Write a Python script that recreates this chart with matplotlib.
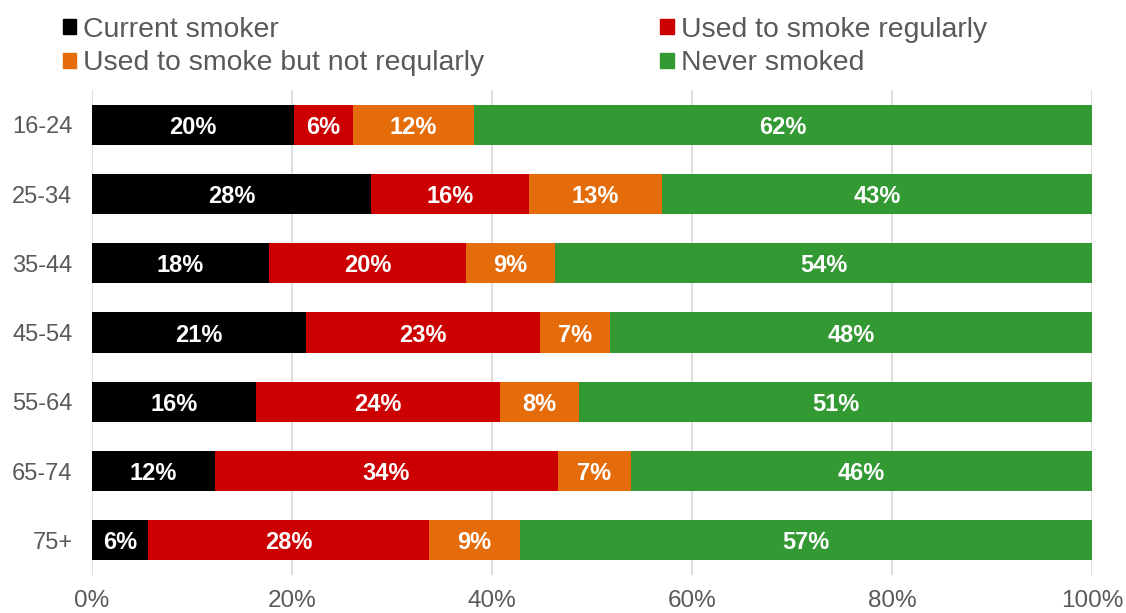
import numpy as np
import matplotlib.pyplot as plt
from matplotlib.patches import Patch

plt.rcParams['font.family'] = ['Liberation Sans', 'DejaVu Sans']

# data (percent)
ages = ['16-24', '25-34', '35-44', '45-54', '55-64', '65-74', '75+']
current = [20.2, 27.9, 17.7, 21.4, 16.4, 12.3, 5.6]
used_regular = [5.9, 15.8, 19.7, 23.4, 24.4, 34.3, 28.1]
used_not_regular = [12.1, 13.3, 8.9, 7.0, 7.9, 7.3, 9.1]
never = [61.8, 43.0, 53.7, 48.2, 51.3, 46.1, 57.2]

series = ['Current smoker', 'Used to smoke regularly',
          'Used to smoke but not reqularly', 'Never smoked']
colors = ['#000000', '#CC0000', '#E46C0A', '#339933']

fig = plt.figure(figsize=(11.26, 6.13), dpi=100)
ax = fig.add_axes([0.0817, 0.062, 0.888, 0.791])

y = np.arange(len(ages))
left = np.zeros(len(ages))
for vals, col in zip([current, used_regular, used_not_regular, never], colors):
    vals = np.array(vals)
    ax.barh(y, vals, left=left, height=0.58, color=col, zorder=3)
    for yi, l, v in zip(y, left, vals):
        ax.text(l + v / 2, yi, f'{v:.0f}%', ha='center', va='center_baseline',
                color='white', fontsize=17, fontweight='bold', zorder=4)
    left += vals

ax.set_xlim(0, 100)
ax.set_ylim(len(ages) - 0.5, -0.5)
ax.set_yticks(y)
ax.set_yticklabels(ages, va='center_baseline')
ax.set_xticks(np.arange(0, 101, 20))
ax.set_xticklabels([f'{t}%' for t in range(0, 101, 20)])
ax.tick_params(axis='y', length=0, labelsize=17, colors='#595959', pad=14)
ax.tick_params(axis='x', length=0, labelsize=17.5, colors='#595959', pad=11)
ax.grid(axis='x', color='#D9D9D9', linewidth=1.2, zorder=0)
for s in ax.spines.values():
    s.set_visible(False)

handles = [Patch(color=c) for c in colors]
order = [0, 2, 1, 3]
fig.legend([handles[i] for i in order], [series[i] for i in order],
           loc='upper left', bbox_to_anchor=(0.056, 0.973), ncol=2,
           frameon=False, fontsize=20.4, labelcolor='#595959',
           borderaxespad=0, borderpad=0,
           handlelength=0.47, handleheight=0.47, handletextpad=0.25,
           columnspacing=6.2, labelspacing=0.28)

fig.savefig('out.png')
